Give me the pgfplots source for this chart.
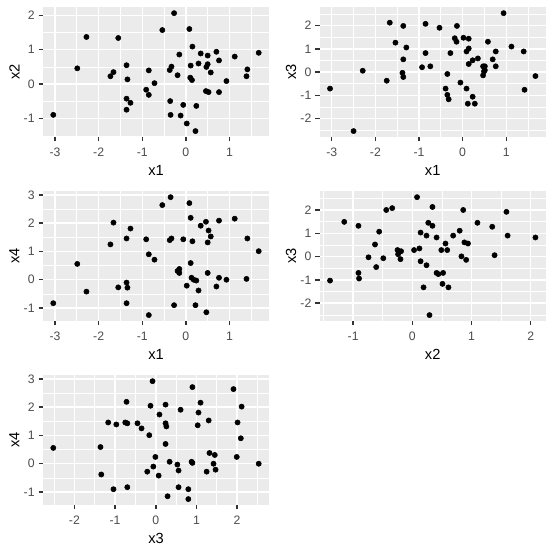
\documentclass[border=0pt]{standalone}
\usepackage{fontspec}
\setmainfont{Liberation Sans}
\usepackage{pgfplots}
\pgfplotsset{compat=1.18}

\definecolor{ggbg}{HTML}{EBEBEB}
\definecolor{ggtick}{HTML}{333333}
\definecolor{ggtext}{HTML}{4D4D4D}

\pgfplotsset{
  gg/.style={
    scale only axis, width=169.5pt, height=97.3pt,
    anchor=south west,
    axis background/.style={fill=ggbg, draw=none},
    axis line style={draw=none},
    grid=both,
    major grid style={white, line width=1.07pt},
    minor grid style={white, line width=0.53pt},
    tick align=outside,
    xtick pos=bottom, ytick pos=left,
    major tick length=3.3pt, minor tick length=0pt,
    major tick style={color=ggtick, line width=1.07pt},
    /pgf/number format/assume math mode=true,
    tick label style={font=\fontsize{9.2}{10}\selectfont, text=ggtext},
    xticklabel style={anchor=north, inner sep=0pt},
    yticklabel style={anchor=east, inner sep=0pt},
    xticklabel shift=5pt, yticklabel shift=2.8pt,
    label style={font=\fontsize{11}{13}\selectfont, text=black, inner sep=0pt},
    xlabel style={at={([yshift=-21pt]axis description cs:0.5,0)}, anchor=north},
    ylabel style={at={([xshift=-25.5pt]axis description cs:0,0.5)}, anchor=north, rotate=0},
    every axis plot post/.append style={black, only marks, mark=*, mark size=1.95pt,
      mark options={fill=black, draw=none}},
  }
}

\begin{document}
\begin{tikzpicture}
\path[fill=white, use as bounding box] (0,0) rectangle (414.75pt,414pt);

% x1 against x2
\begin{axis}[gg, at={(32.25pt,311.25pt)},
  xmin=-3.276, xmax=1.906, ymin=-1.531, ymax=2.231,
  xtick={-3,-2,-1,0,1}, xticklabels={-3,-2,-1,0,1},
  minor xtick={-2.5,-1.5,-0.5,0.5,1.5},
  ytick={-1,0,1,2}, yticklabels={-1,0,1,2},
  minor ytick={-1.5,-0.5,0.5,1.5},
  xlabel={x1}, ylabel={x2}]
\addplot coordinates {
(-3.04,-0.89) (-2.49,0.46) (-2.28,1.37) (-1.73,0.23) (-1.66,0.35)
(-1.55,1.34) (-1.36,0.55) (-1.34,0.14) (-1.36,-0.42) (-1.36,-0.74)
(-1.27,-0.54) (-0.85,0.40) (-0.91,-0.16) (-0.85,-0.31) (-0.72,0.03)
(-0.54,1.57) (-0.27,2.06) (-0.37,0.41) (-0.33,0.51) (-0.36,-0.49)
(-0.35,-0.89) (-0.15,0.86) (-0.19,0.26) (-0.06,-0.60) (-0.12,-0.91)
(0.02,-1.14) (0.08,1.60) (0.15,1.09) (0.11,0.54) (0.10,0.19)
(0.14,0.12) (0.22,-1.36) (0.24,-0.63) (0.29,0.60) (0.34,0.89)
(0.46,-0.20) (0.47,0.50) (0.50,0.58) (0.50,0.83) (0.52,-0.23)
(0.57,0.34) (0.70,0.94) (0.76,0.69) (0.76,-0.23) (0.93,0.09)
(1.12,0.80) (1.39,0.23) (1.41,0.43) (1.67,0.91)
};
\end{axis}

% x1 against x3
\begin{axis}[gg, at={(239.8pt,311.25pt)},
  xmin=-3.276, xmax=1.906, ymin=-2.794, ymax=2.794,
  xtick={-3,-2,-1,0,1}, xticklabels={-3,-2,-1,0,1},
  minor xtick={-2.5,-1.5,-0.5,0.5,1.5},
  ytick={-2,-1,0,1,2}, yticklabels={-2,-1,0,1,2},
  minor ytick={-2.5,-1.5,-0.5,0.5,1.5,2.5},
  xlabel={x1}, ylabel={x3}]
\addplot coordinates {
(-3.04,-0.71) (-2.50,-2.54) (-2.29,0.06) (-1.74,-0.37) (-1.67,2.13)
(-1.54,1.27) (-1.36,1.99) (-1.29,1.06) (-1.36,0.55) (-1.38,-0.03)
(-1.36,-0.21) (-0.85,2.08) (-0.85,0.82) (-0.93,0.21) (-0.74,0.25)
(-0.53,1.91) (-0.13,1.99) (-0.18,1.46) (-0.14,1.31) (-0.28,0.82)
(-0.35,-0.08) (-0.39,-0.71) (-0.35,-0.98) (-0.32,-1.17) (-0.05,-0.45)
(0.02,1.48) (0.14,1.44) (0.09,0.89) (0.14,1.02) (0.14,0.35)
(0.23,0.51) (0.09,-0.71) (0.12,-1.36) (0.23,-1.06) (0.28,-1.36)
(0.35,0.59) (0.47,0.25) (0.51,0.25) (0.51,0.08) (0.49,0.03)
(0.47,-0.14) (0.58,1.31) (0.69,0.55) (0.76,0.89) (0.76,0.25)
(0.94,2.54) (1.12,1.10) (1.40,0.89) (1.42,-0.76) (1.67,-0.17)
};
\end{axis}

% x1 against x4
\begin{axis}[gg, at={(32.25pt,173.25pt)},
  xmin=-3.276, xmax=1.906, ymin=-1.459, ymax=3.129,
  xtick={-3,-2,-1,0,1}, xticklabels={-3,-2,-1,0,1},
  minor xtick={-2.5,-1.5,-0.5,0.5,1.5},
  ytick={-1,0,1,2,3}, yticklabels={-1,0,1,2,3},
  minor ytick={-0.5,0.5,1.5,2.5},
  xlabel={x1}, ylabel={x4}]
\addplot coordinates {
(-3.04,-0.83) (-2.49,0.56) (-2.28,-0.42) (-1.73,1.25) (-1.66,2.02)
(-1.55,-0.27) (-1.36,1.46) (-1.27,1.81) (-1.36,-0.10) (-1.34,-0.28)
(-1.36,-0.83) (-0.91,1.43) (-0.85,0.90) (-0.72,0.71) (-0.85,-1.25)
(-0.54,2.64) (-0.35,2.92) (-0.37,1.40) (-0.33,1.46) (-0.06,1.43)
(-0.19,0.31) (-0.15,0.38) (-0.15,0.24) (-0.27,-0.90) (0.02,-0.21)
(0.08,2.71) (0.11,2.19) (0.11,0.59) (0.15,1.36) (0.13,0.07)
(0.18,0.00) (0.24,-0.03) (0.29,-0.38) (0.22,-0.90) (0.34,1.91)
(0.46,2.05) (0.52,1.74) (0.57,1.53) (0.50,1.32) (0.50,0.24)
(0.47,-1.15) (0.70,-0.24) (0.76,2.09) (0.76,0.07) (0.93,0.00)
(1.12,2.16) (1.41,1.46) (1.39,0.03) (1.67,1.01)
};
\end{axis}

% x2 against x3
\begin{axis}[gg, at={(239.8pt,173.25pt)},
  xmin=-1.564, xmax=2.254, ymin=-2.763, ymax=2.803,
  xtick={-1,0,1,2}, xticklabels={-1,0,1,2},
  minor xtick={-1.5,-0.5,0.5,1.5},
  ytick={-2,-1,0,1,2}, yticklabels={-2,-1,0,1,2},
  minor ytick={-2.5,-1.5,-0.5,0.5,1.5,2.5},
  xlabel={x2}, ylabel={x3}]
\addplot coordinates {
(-1.39,-1.03) (-1.15,1.49) (-0.91,1.32) (-0.91,-0.70) (-0.90,-0.94)
(-0.74,-0.03) (-0.63,0.52) (-0.61,-0.45) (-0.56,1.07) (-0.49,-0.07)
(-0.44,2.00) (-0.34,2.08) (-0.25,0.28) (-0.24,0.10) (-0.22,0.21)
(-0.19,0.23) (-0.20,-0.11) (0.03,0.28) (0.08,2.55) (0.12,0.35)
(0.14,1.03) (0.14,-0.20) (0.19,-1.32) (0.24,0.90) (0.24,-0.37)
(0.27,1.45) (0.34,2.13) (0.34,1.32) (0.41,0.82) (0.41,-0.70)
(0.44,-0.75) (0.29,-2.51) (0.49,0.28) (0.51,-1.17) (0.52,-0.70)
(0.56,0.56) (0.59,0.28) (0.61,-1.32) (0.69,0.90) (0.80,1.11)
(0.83,0.01) (0.86,2.00) (0.88,0.61) (0.94,0.56) (0.91,-0.14)
(1.10,1.45) (1.35,1.28) (1.39,0.06) (1.59,1.92) (1.61,0.90)
(2.08,0.82)
};
\end{axis}

% x3 against x4
\begin{axis}[gg, at={(32.25pt,35.25pt)},
  xmin=-2.773, xmax=2.783, ymin=-1.459, ymax=3.129,
  xtick={-2,-1,0,1,2}, xticklabels={-2,-1,0,1,2},
  minor xtick={-2.5,-1.5,-0.5,0.5,1.5,2.5},
  ytick={-1,0,1,2,3}, yticklabels={-1,0,1,2,3},
  minor ytick={-0.5,0.5,1.5,2.5},
  xlabel={x3}, ylabel={x4}]
\addplot coordinates {
(-2.52,0.56) (-1.36,0.59) (-1.34,-0.38) (-1.17,1.46) (-1.04,-0.90)
(-0.97,1.39) (-0.75,1.46) (-0.72,2.19) (-0.70,1.43) (-0.70,-0.83)
(-0.45,1.43) (-0.35,1.25) (-0.16,1.01) (-0.21,-0.28) (-0.13,2.05)
(-0.08,2.92) (-0.06,-0.10) (-0.01,0.24) (0.07,-0.42) (0.09,1.74)
(0.24,2.09) (0.24,1.43) (0.26,1.32) (0.24,0.70) (0.29,-1.15)
(0.34,0.07) (0.53,-0.03) (0.56,-0.24) (0.56,-0.83) (0.61,1.91)
(0.90,2.71) (0.88,0.07) (0.90,0.03) (0.80,-0.90) (0.80,-1.25)
(1.03,1.36) (1.05,1.81) (1.10,2.16) (1.25,-0.28) (1.30,1.53)
(1.32,0.38) (1.42,0.00) (1.45,0.31) (1.47,-0.21) (1.91,2.64)
(2.01,1.46) (1.99,0.24) (2.09,0.90) (2.11,2.02) (2.53,0.00)
};
\end{axis}
\end{tikzpicture}
\end{document}
